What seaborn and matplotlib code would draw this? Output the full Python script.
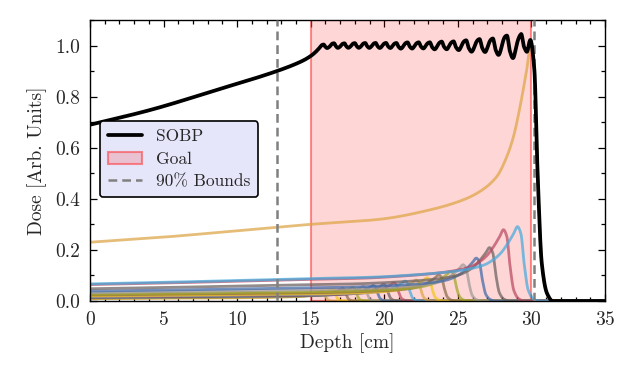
import numpy as np
import pandas as pd
import matplotlib
matplotlib.use("Agg")
import matplotlib.pyplot as plt
from matplotlib.lines import Line2D
from matplotlib.patches import Patch
from matplotlib.ticker import MultipleLocator, FormatStrFormatter
import seaborn as sns

# ---- data ----
# depth (cm) of each pristine Bragg peak, shallow -> deep
peak_depths = [15.75, 16.45, 17.15, 17.85, 18.55, 19.25, 19.95, 20.65, 21.4,
               22.15, 22.9, 23.7, 24.5, 25.35, 26.25, 27.15, 28.1, 29.05, 29.95]
# peak dose of each pristine curve
peak_doses = [0.039, 0.047, 0.049, 0.053, 0.057, 0.061, 0.065, 0.071, 0.078,
              0.082, 0.091, 0.102, 0.116, 0.142, 0.168, 0.209, 0.279, 0.291, 1.000]
# relative depth-dose profile (depth/peak depth -> dose/peak dose)
profile_u = [0.0, 0.167, 0.334, 0.50, 0.658, 0.772, 0.847, 0.885, 0.923, 0.946,
             0.961, 0.976, 0.991, 1.0, 1.0083, 1.0157, 1.025, 1.037, 1.05]
profile_d = [0.23, 0.25, 0.275, 0.30, 0.32, 0.357, 0.396, 0.429, 0.487, 0.566,
             0.644, 0.762, 0.906, 1.0, 0.90, 0.50, 0.15, 0.03, 0.0]
goal_range = [15.0, 30.0]
bounds_90 = [12.7, 30.2]
color_cycle = ["#DDA444", "#F5C518", "#8A6A4A", "#A0A828", "#A09898",
               "#3F68A8", "#6A6060", "#B84A62", "#45AADD"]


def pchip(xk, yk, x):
    """Monotone cubic curve through the read profile points."""
    xk = np.asarray(xk, float); yk = np.asarray(yk, float); x = np.asarray(x, float)
    h = np.diff(xk); delta = np.diff(yk) / h
    n = len(xk); d = np.zeros(n)
    for k in range(1, n - 1):
        if delta[k - 1] * delta[k] > 0:
            w1 = 2 * h[k] + h[k - 1]; w2 = h[k] + 2 * h[k - 1]
            d[k] = (w1 + w2) / (w1 / delta[k - 1] + w2 / delta[k])
    d[0] = delta[0]
    idx = np.clip(np.searchsorted(xk, x) - 1, 0, n - 2)
    t = (x - xk[idx]) / h[idx]
    out = ((2*t**3 - 3*t**2 + 1) * yk[idx] + (t**3 - 2*t**2 + t) * h[idx] * d[idx]
           + (-2*t**3 + 3*t**2) * yk[idx + 1] + (t**3 - t**2) * h[idx] * d[idx + 1])
    out[x > xk[-1]] = 0.0
    return out


depth = np.arange(0.0, 35.0001, 0.02)
rows = []
sobp = np.zeros_like(depth)
for i, (d, w) in enumerate(zip(peak_depths, peak_doses)):
    dose = w * pchip(profile_u, profile_d, depth / d)
    sobp += dose
    rows.append(pd.DataFrame({"depth": depth, "dose": dose, "beam": f"b{i:02d}"}))
beams = pd.concat(rows, ignore_index=True)
sobp_df = pd.DataFrame({"depth": depth, "dose": sobp})
palette = {f"b{i:02d}": color_cycle[i % len(color_cycle)] for i in range(len(peak_depths))}

sns.set_theme(style="ticks")
plt.rcParams["font.family"] = ["cmr10", "DejaVu Serif"]
plt.rcParams["mathtext.fontset"] = "cm"
plt.rcParams["axes.formatter.use_mathtext"] = True
plt.rcParams["axes.unicode_minus"] = False

fig = plt.figure(figsize=(6.37, 3.72), dpi=100)
ax = fig.add_axes([90 / 637, 1 - 301 / 372, 515 / 637, 281 / 372])

ax.axvspan(goal_range[0], goal_range[1], facecolor=(1, 0, 0, 0.16),
           edgecolor=(1, 0.2, 0.2, 0.55), lw=1.5, zorder=1)
sns.lineplot(data=beams, x="depth", y="dose", hue="beam", palette=palette,
             estimator=None, legend=False, lw=2.0, alpha=0.72, ax=ax, zorder=2)
sns.lineplot(data=sobp_df, x="depth", y="dose", color="black", lw=2.7,
             estimator=None, ax=ax, zorder=4)
for b in bounds_90:
    ax.axvline(b, color="gray", ls=(0, (3.5, 2)), lw=1.8, zorder=3)

ax.set_xlim(0, 35)
ax.set_ylim(0, 1.1)
ax.xaxis.set_major_locator(MultipleLocator(5))
ax.xaxis.set_minor_locator(MultipleLocator(1))
ax.yaxis.set_major_locator(MultipleLocator(0.2))
ax.yaxis.set_minor_locator(MultipleLocator(0.1))
ax.yaxis.set_major_formatter(FormatStrFormatter("%.1f"))
ax.tick_params(which="both", direction="in", top=True, right=True, labelsize=14,
               color="black", width=0.9)
ax.tick_params(which="major", length=5, pad=7)
ax.tick_params(which="minor", length=2.8)
for s in ax.spines.values():
    s.set_linewidth(1.0)
    s.set_color("black")

ax.set_xlabel("Depth [cm]", fontsize=14, labelpad=3)
ax.set_ylabel("Dose [Arb. Units]", fontsize=14, labelpad=6)

handles = [Line2D([], [], color="black", lw=2.7),
           Patch(facecolor=(1, 0, 0, 0.16), edgecolor=(1, 0.2, 0.2, 0.55), lw=1.5),
           Line2D([], [], color="gray", ls=(0, (3.5, 2)), lw=1.8)]
leg = ax.legend(handles, ["SOBP", "Goal", "90% Bounds"], loc="upper left",
                bbox_to_anchor=(0.019, 0.64), borderaxespad=0, fontsize=12.5,
                frameon=True, fancybox=True, facecolor="#E6E6FA", edgecolor="black",
                framealpha=1, handlelength=2.0, labelspacing=0.42, borderpad=0.45,
                handletextpad=0.8)
leg.get_frame().set_linewidth(1.2)
leg.set_zorder(10)

fig.savefig("out.png", dpi=100)
